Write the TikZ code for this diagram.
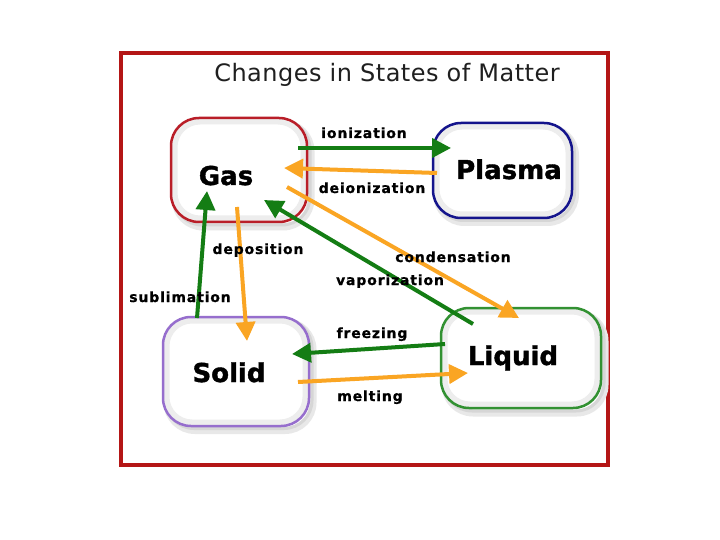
\documentclass[tikz,border=0pt]{standalone}
\usepackage{fontspec}
\setmainfont{DejaVu Sans}
\usetikzlibrary{arrows.meta}
\definecolor{framered}{RGB}{180,22,22}
\definecolor{gasred}{RGB}{185,30,40}
\definecolor{plasmablue}{RGB}{20,20,140}
\definecolor{solidpurple}{RGB}{150,110,205}
\definecolor{liquidgreen}{RGB}{50,145,50}
\definecolor{arrgreen}{RGB}{20,125,20}
\definecolor{arrorange}{RGB}{250,165,35}
\newfontfamily\lblfont[LetterSpace=6,FakeBold=0.8]{DejaVu Sans Bold}
\newfontfamily\statefont[FakeBold=1.5]{DejaVu Sans Bold}
\newfontfamily\titlefont[LetterSpace=2]{DejaVu Sans}
\tikzset{
  statebox/.style={draw, line width=2.5pt, rounded corners=28pt, inner sep=0pt},
  fillbox/.style={fill=white, draw=gray!14, line width=7pt, rounded corners=26pt, inner sep=0pt},
  shadowbox/.style={draw=gray!18, line width=7pt, rounded corners=28pt, inner sep=0pt},
  shadowboxb/.style={draw=gray!32, line width=3pt, rounded corners=28pt, inner sep=0pt},
  statetext/.style={anchor=base, font=\statefont\fontsize{26}{26}\selectfont, inner sep=0pt},
  lbl/.style={anchor=base, font=\lblfont\fontsize{14}{15}\selectfont, inner sep=0pt},
  conv/.style={line width=4pt, -{Triangle[length=19pt,width=19pt]}},
  gconv/.style={conv, draw=arrgreen, fill=arrgreen},
  oconv/.style={conv, draw=arrorange, fill=arrorange}
}
\begin{document}
\begin{tikzpicture}[x=1pt,y=-1pt]
\useasboundingbox (0,0) rectangle (720,540);
\fill[white] (0,0) rectangle (720,540);
\draw[framered, line width=3.5pt] (121,53) rectangle (608,465);
\node[anchor=base, font=\titlefont\fontsize{24}{26}\selectfont, text=black!88, inner sep=0pt] (title) at (387,82) {Changes in States of Matter};
% shadows
\node[shadowbox, minimum width=136pt, minimum height=104pt] (gasshadow) at (243,175) {};
\node[shadowbox, minimum width=139pt, minimum height=95pt] (plasmashadow) at (506,175) {};
\node[shadowbox, minimum width=146pt, minimum height=109pt] (solidshadow) at (240,376) {};
\node[shadowbox, minimum width=160pt, minimum height=100pt] (liquidshadow) at (525,363) {};
\node[shadowboxb, minimum width=136pt, minimum height=104pt] (gasshadowb) at (242,173) {};
\node[shadowboxb, minimum width=139pt, minimum height=95pt] (plasmashadowb) at (505,173) {};
\node[shadowboxb, minimum width=146pt, minimum height=109pt] (solidshadowb) at (239,374) {};
\node[shadowboxb, minimum width=160pt, minimum height=100pt] (liquidshadowb) at (524,361) {};
% white interiors with soft inner shade
\node[fillbox, minimum width=130pt, minimum height=98pt] (gasfill) at (239,170) {};
\node[fillbox, minimum width=133pt, minimum height=89pt] (plasmafill) at (502.5,170.5) {};
\node[fillbox, minimum width=140pt, minimum height=103pt] (solidfill) at (236,371.5) {};
\node[fillbox, minimum width=154pt, minimum height=94pt] (liquidfill) at (521,358) {};
% boxes
\node[statebox, draw=gasred, minimum width=136pt, minimum height=104pt] (gasbox) at (239,170) {};
\node[statebox, draw=plasmablue, minimum width=139pt, minimum height=95pt] (plasmabox) at (502.5,170.5) {};
\node[statebox, draw=solidpurple, minimum width=146pt, minimum height=109pt] (solidbox) at (236,371.5) {};
\node[statebox, draw=liquidgreen, minimum width=160pt, minimum height=100pt] (liquidbox) at (521,358) {};
% texts
\node[statetext] (gas) at (226,185) {Gas};
\node[statetext] (plasma) at (509,179) {Plasma};
\node[statetext] (solid) at (229,382) {Solid};
\node[statetext] (liquid) at (513,365) {Liquid};
% arrow end points
\coordinate (ionA) at (298,148); \coordinate (ionB) at (451,148);
\coordinate (deiA) at (437,173); \coordinate (deiB) at (284,168);
\coordinate (conA) at (287,187); \coordinate (conB) at (519,318);
\coordinate (vapA) at (473,324); \coordinate (vapB) at (264,200);
\coordinate (subA) at (197,318); \coordinate (subB) at (207,191);
\coordinate (depA) at (237,207); \coordinate (depB) at (247,341);
\coordinate (frzA) at (445,344); \coordinate (frzB) at (292,354);
\coordinate (melA) at (298,382); \coordinate (melB) at (468,373);
% arrows
\draw[gconv] (ionA) -- (ionB);
\draw[oconv] (deiA) -- (deiB);
\draw[oconv] (conA) -- (conB);
\draw[gconv] (vapA) -- (vapB);
\draw[gconv] (subA) -- (subB);
\draw[oconv] (depA) -- (depB);
\draw[gconv] (frzA) -- (frzB);
\draw[oconv] (melA) -- (melB);
% labels
\node[lbl] (ionl) at (364,138) {ionization};
\node[lbl] (deil) at (372,193) {deionization};
\node[lbl] (conl) at (453,262) {condensation};
\node[lbl] (vapl) at (390,285) {vaporization};
\node[lbl] (subl) at (180,302) {sublimation};
\node[lbl] (depl) at (258,254) {deposition};
\node[lbl] (frzl) at (372,338) {freezing};
\node[lbl] (mell) at (370,401) {melting};
\end{tikzpicture}
\end{document}
